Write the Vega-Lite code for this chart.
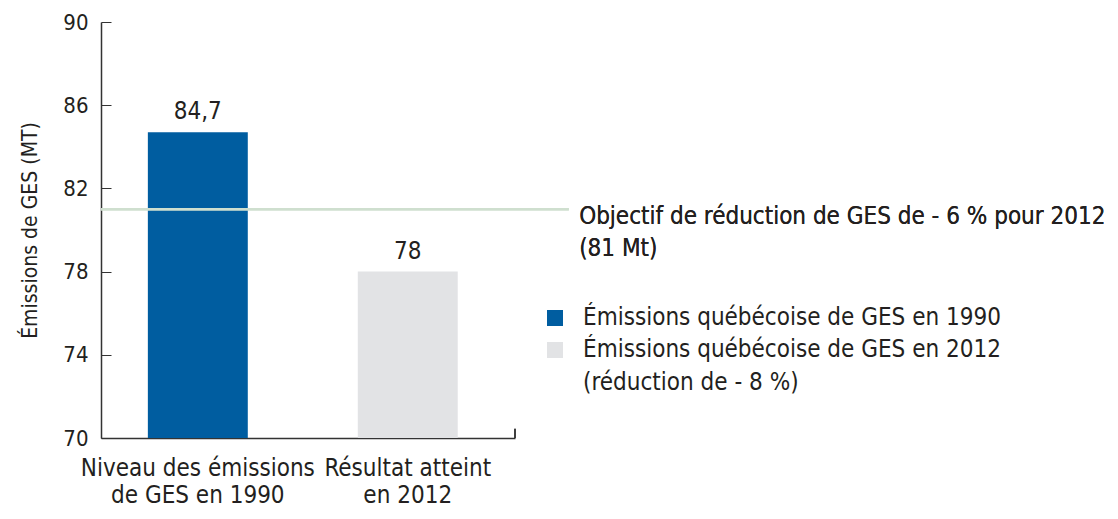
{
  "$schema": "https://vega.github.io/schema/vega-lite/v6.json",
  "width": 414,
  "height": 416,
  "autosize": {"type": "none"},
  "padding": {"left": 101, "top": 22, "right": 603, "bottom": 81},
  "background": "white",
  "config": {
    "font": "DejaVu Sans Condensed",
    "view": {"stroke": null},
    "locale": {"number": {"decimal": ",", "thousands": " ", "grouping": [3], "currency": ["", " $"]}}
  },
  "data": {"values": [
    {"cat": "Niveau des émissions de GES en 1990", "serie": "Émissions québécoise de GES en 1990", "value": 84.7},
    {"cat": "Résultat atteint en 2012", "serie": "Émissions québécoise de GES en 2012 (réduction de - 8 %)", "value": 78}
  ]},
  "layer": [
    {
      "layer": [
        {
          "mark": {"type": "bar"},
          "encoding": {
            "x": {
              "field": "cat", "type": "nominal", "sort": null,
              "scale": {"paddingInner": 0.524, "paddingOuter": 0.248, "align": 0.45},
              "axis": {
                "title": null, "labelAngle": 0, "ticks": false,
                "domainColor": "#333333", "domainWidth": 1.5,
                "labelFontSize": 24, "labelColor": "#231f20", "labelLimit": 0,
                "labelPadding": 18, "labelLineHeight": 27, "labelBaseline": "top",
                "labelExpr": "split(replace(replace(datum.label, ' de GES', '|de GES'), 'atteint ', 'atteint|'), '|')"
              }
            },
            "y": {
              "field": "value", "type": "quantitative",
              "scale": {"domain": [70, 90], "zero": false, "nice": false},
              "axis": {
                "values": [70, 74, 78, 82, 86, 90],
                "title": "Émissions de GES (MT)", "titleFontSize": 21, "titleFontWeight": "normal",
                "titleColor": "#231f20", "titlePadding": 22,
                "tickSize": -10, "tickColor": "#333333", "domainColor": "#333333", "domainWidth": 1.5,
                "labelFontSize": 22, "labelColor": "#231f20", "labelPadding": 23, "grid": false
              }
            },
            "y2": {"datum": 70},
            "color": {
              "field": "serie", "type": "nominal",
              "scale": {"range": ["#005da0", "#e2e3e5"]},
              "legend": {
                "title": null, "orient": "none", "legendX": 442, "legendY": 284,
                "symbolType": "square", "symbolSize": 256, "symbolStrokeWidth": 0, "symbolOpacity": 1,
                "labelFontSize": 24, "labelColor": "#231f20", "labelOffset": 16, "labelLimit": 600,
                "rowPadding": 8,
                "labelExpr": "split(replace(datum.label, ' (réd', '|(réd'), '|')",
                "encode": {"labels": {"update": {"lineHeight": {"value": 33}}}}
              }
            }
          }
        },
        {
          "mark": {"type": "text", "dy": -8, "fontSize": 24, "color": "#231f20", "baseline": "bottom"},
          "encoding": {
            "x": {"field": "cat", "type": "nominal", "sort": null},
            "y": {"field": "value", "type": "quantitative"},
            "text": {"field": "value", "type": "quantitative", "format": ".1~f"}
          }
        }
      ]
    },
    {
      "layer": [
        {
          "mark": {"type": "rule", "color": "#cfdfcf", "strokeWidth": 2.5},
          "encoding": {
            "x": {"datum": 0, "type": "quantitative", "scale": {"domain": [0, 1]}, "axis": null},
            "x2": {"datum": 1.13},
            "y": {"datum": 81, "type": "quantitative"}
          }
        },
        {
          "mark": {"type": "rule", "color": "#333333", "strokeWidth": 1.5},
          "encoding": {
            "x": {"datum": 1, "type": "quantitative", "scale": {"domain": [0, 1]}, "axis": null},
            "y": {"datum": 70, "type": "quantitative"},
            "y2": {"datum": 70.45}
          }
        },
        {
          "mark": {"type": "text", "align": "left", "baseline": "top", "fontSize": 24, "color": "#231f20", "lineHeight": 32, "dy": -4},
          "encoding": {
            "x": {"datum": 1.155, "type": "quantitative", "scale": {"domain": [0, 1]}, "axis": null},
            "y": {"datum": 81, "type": "quantitative"},
            "text": {"value": ["Objectif de réduction de GES de - 6 % pour 2012", "(81 Mt)"]}
          }
        }
      ]
    }
  ],
  "resolve": {"scale": {"x": "independent"}}
}
